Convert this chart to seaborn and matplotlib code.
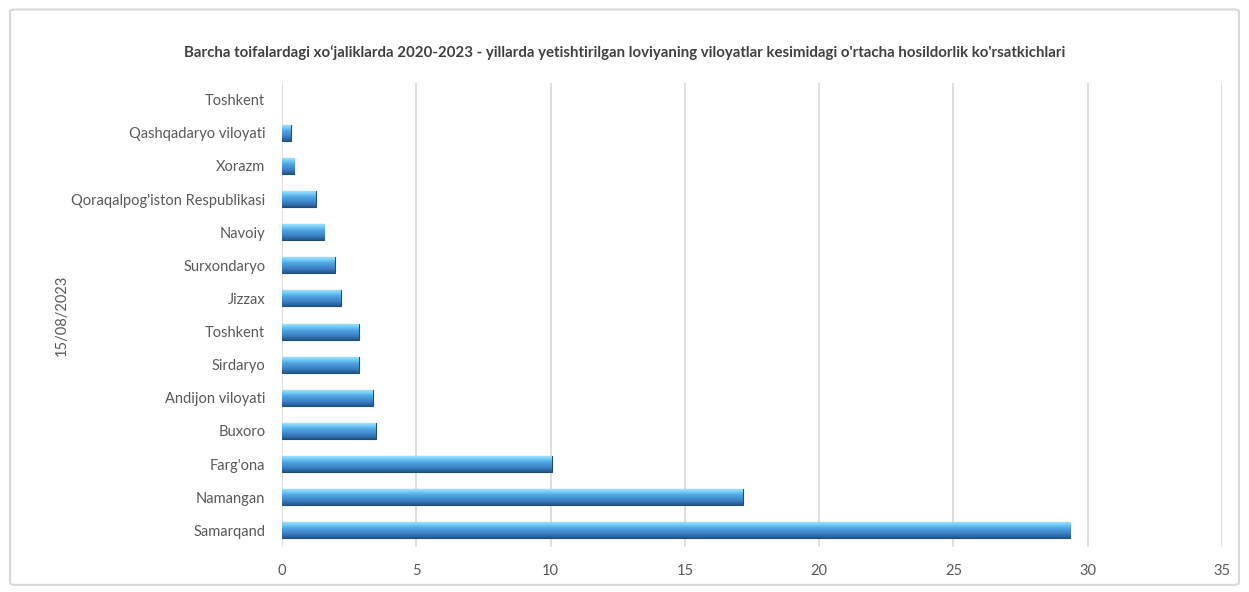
import matplotlib.pyplot as plt
import matplotlib.colors as mcolors
from matplotlib.patches import FancyBboxPatch
import numpy as np
import seaborn as sns
import pandas as pd

sns.set_style("white")
plt.rcParams['font.family'] = ['Lato', 'DejaVu Sans']

regions = ["Toshkent", "Qashqadaryo viloyati", "Xorazm", "Qoraqalpog'iston Respublikasi",
           "Navoiy", "Surxondaryo", "Jizzax", "Toshkent", "Sirdaryo", "Andijon viloyati",
           "Buxoro", "Farg'ona", "Namangan", "Samarqand"]
yields = [0, 0.32, 0.45, 1.25, 1.58, 1.96, 2.19, 2.86, 2.86, 3.38, 3.49, 10.05, 17.15, 29.35]
x_ticks = [0, 5, 10, 15, 20, 25, 30, 35]

title = ("Barcha toifalardagi xo\u2018jaliklarda 2020-2023 - yillarda yetishtirilgan loviyaning "
         "viloyatlar kesimidagi o'rtacha hosildorlik ko'rsatkichlari")
date_label = "15/08/2023"

# duplicate region names -> use row ids as categories, names as tick labels
df = pd.DataFrame({'row': [str(i) for i in range(len(regions))], 'value': yields})

fig = plt.figure(figsize=(12.49, 5.92), dpi=100)
fig.patches.append(FancyBboxPatch((0.008, 0.012), 0.984, 0.972, boxstyle="round,pad=0,rounding_size=0.004",
                                  transform=fig.transFigure, facecolor='none',
                                  edgecolor='#d9d9d9', linewidth=1.5, zorder=-1))
ax = fig.add_axes([282 / 1249, 1 - 547 / 592, (1222 - 282) / 1249, (547 - 83) / 592])
ax.set_facecolor('none')

sns.barplot(data=df, y='row', x='value', orient='h', color='#4a93d6', width=0.48,
            edgecolor='#1f4e79', linewidth=0.8, ax=ax, zorder=3)

# bevel-like gradient inside each bar
grad = mcolors.LinearSegmentedColormap.from_list(
    'bev', ['#9ee2ff', '#6cc6f6', '#4fa2e2', '#448fd2', '#3576b8', '#24568a'])
g = np.linspace(0, 1, 64).reshape(-1, 1)
for p in list(ax.patches):
    w = p.get_width()
    if w <= 0:
        p.set_visible(False)
        continue
    y0, h = p.get_y(), p.get_height()
    im = ax.imshow(g, cmap=grad, aspect='auto', extent=(0, w, y0 + h, y0),
                   zorder=3.5, interpolation='bicubic')
    im.set_clip_path(p)

ax.set_xlim(0, 35)
ax.set_ylim(len(regions) - 0.5, -0.5)
ax.set_xticks(x_ticks)
ax.set_xticklabels([str(t) for t in x_ticks])
ax.set_yticks(range(len(regions)))
ax.set_yticklabels(regions)
ax.grid(axis='x', color='#d9d9d9', linewidth=1.2, zorder=0)
ax.set_axisbelow(True)
for s in ax.spines.values():
    s.set_visible(False)
ax.tick_params(axis='both', length=0, labelsize=10.5, labelcolor='#595959')
ax.tick_params(axis='y', pad=12)
ax.tick_params(axis='x', pad=12)
ax.set_xlabel('')
ax.set_ylabel('')

fig.text(0.5, 1 - 53 / 592, title, ha='center', va='center', fontsize=10.8,
         fontweight='bold', color='#404040')
fig.text(62 / 1249, 1 - 315 / 592, date_label, rotation=90, ha='center', va='center',
         fontsize=10.5, color='#595959')

fig.savefig('out.png', dpi=100)
